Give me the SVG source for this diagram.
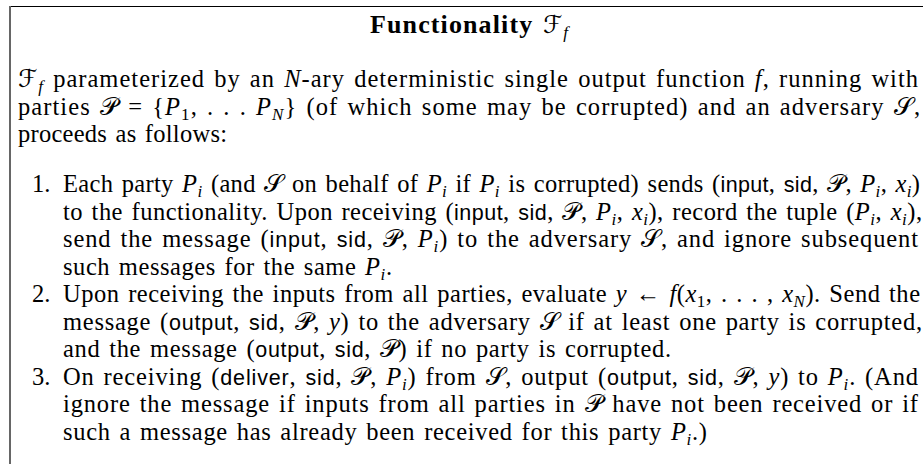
<svg xmlns="http://www.w3.org/2000/svg" width="923" height="464" viewBox="0 0 923 464">
<style>
text{font-family:"Liberation Serif","Times New Roman",serif;font-size:24.5px;word-spacing:2px;fill:#000}
.m{font-style:italic}
.s{font-family:"Liberation Sans",Arial,sans-serif;font-size:21.5px;word-spacing:0}
.b{font-size:17px;baseline-shift:-5px}
.c{font-family:"DejaVu Serif","DejaVu Sans","Noto Sans",serif;font-style:normal}
.h{font-weight:bold;font-size:26px}
</style>
<rect width="923" height="464" fill="#fff"/>
<g id="frame">
<line x1="9" y1="6.5" x2="923" y2="6.5" stroke="#000" stroke-width="1.2"/>
<line x1="10" y1="6" x2="10" y2="464" stroke="#666" stroke-width="2"/>
</g>
<g id="title">
<text x="370" y="33" textLength="198" lengthAdjust="spacing"><tspan class="h">Functionality </tspan><tspan class="c">ℱ</tspan><tspan class="b m">f</tspan></text>
</g>
<g id="intro">
<text x="18" y="87" textLength="900" lengthAdjust="spacing"><tspan class="c">ℱ</tspan><tspan class="b m">f</tspan> parameterized by an <tspan class="m">N</tspan>-ary deterministic single output function <tspan class="m">f</tspan>, running with</text>
<text x="18" y="115" textLength="902" lengthAdjust="spacing">parties <tspan class="c">𝒫</tspan> = {<tspan class="m">P</tspan><tspan class="b">1</tspan>, . . . <tspan class="m">P</tspan><tspan class="b m">N</tspan>} (of which some may be corrupted) and an adversary <tspan class="c">𝒮</tspan>,</text>
<text x="18" y="142" textLength="209" lengthAdjust="spacing">proceeds as follows:</text>
</g>
<g id="item1">
<text x="32" y="192">1.</text>
<text x="63" y="192" textLength="857" lengthAdjust="spacing">Each party <tspan class="m">P</tspan><tspan class="b m">i</tspan> (and <tspan class="c">𝒮</tspan> on behalf of <tspan class="m">P</tspan><tspan class="b m">i</tspan> if <tspan class="m">P</tspan><tspan class="b m">i</tspan> is corrupted) sends (<tspan class="s">input</tspan>, <tspan class="s">sid</tspan>, <tspan class="c">𝒫</tspan>, <tspan class="m">P</tspan><tspan class="b m">i</tspan>, <tspan class="m">x</tspan><tspan class="b m">i</tspan>)</text>
<text x="63" y="219.5" textLength="859" lengthAdjust="spacing">to the functionality. Upon receiving (<tspan class="s">input</tspan>, <tspan class="s">sid</tspan>, <tspan class="c">𝒫</tspan>, <tspan class="m">P</tspan><tspan class="b m">i</tspan>, <tspan class="m">x</tspan><tspan class="b m">i</tspan>), record the tuple (<tspan class="m">P</tspan><tspan class="b m">i</tspan>, <tspan class="m">x</tspan><tspan class="b m">i</tspan>),</text>
<text x="63" y="247" textLength="855" lengthAdjust="spacing">send the message (<tspan class="s">input</tspan>, <tspan class="s">sid</tspan>, <tspan class="c">𝒫</tspan>, <tspan class="m">P</tspan><tspan class="b m">i</tspan>) to the adversary <tspan class="c">𝒮</tspan>, and ignore subsequent</text>
<text x="63" y="274.5" textLength="329" lengthAdjust="spacing">such messages for the same <tspan class="m">P</tspan><tspan class="b m">i</tspan>.</text>
</g>
<g id="item2">
<text x="32" y="302">2.</text>
<text x="63" y="302" textLength="857" lengthAdjust="spacing">Upon receiving the inputs from all parties, evaluate <tspan class="m">y</tspan> ← <tspan class="m">f</tspan>(<tspan class="m">x</tspan><tspan class="b">1</tspan>, . . . , <tspan class="m">x</tspan><tspan class="b m">N</tspan>). Send the</text>
<text x="63" y="329.5" textLength="859" lengthAdjust="spacing">message (<tspan class="s">output</tspan>, <tspan class="s">sid</tspan>, <tspan class="c">𝒫</tspan>, <tspan class="m">y</tspan>) to the adversary <tspan class="c">𝒮</tspan>  if at least one party is corrupted,</text>
<text x="63" y="357" textLength="608" lengthAdjust="spacing">and the message (<tspan class="s">output</tspan>, <tspan class="s">sid</tspan>, <tspan class="c">𝒫</tspan>) if no party is corrupted.</text>
</g>
<g id="item3">
<text x="32" y="384.5">3.</text>
<text x="63" y="384.5" textLength="855" lengthAdjust="spacing">On receiving (<tspan class="s">deliver</tspan>, <tspan class="s">sid</tspan>, <tspan class="c">𝒫</tspan>, <tspan class="m">P</tspan><tspan class="b m">i</tspan>) from <tspan class="c">𝒮</tspan>, output (<tspan class="s">output</tspan>, <tspan class="s">sid</tspan>, <tspan class="c">𝒫</tspan>, <tspan class="m">y</tspan>) to <tspan class="m">P</tspan><tspan class="b m">i</tspan>. (And</text>
<text x="63" y="412" textLength="855" lengthAdjust="spacing">ignore the message if inputs from all parties in <tspan class="c">𝒫</tspan> have not been received  or if</text>
<text x="63" y="439.5" textLength="644" lengthAdjust="spacing">such a message has already been received for this party <tspan class="m">P</tspan><tspan class="b m">i</tspan>.)</text>
</g>
</svg>
